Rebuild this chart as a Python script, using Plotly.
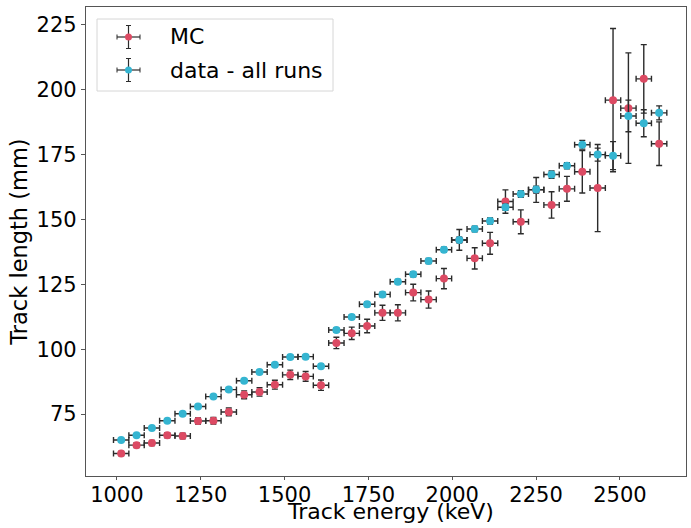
import plotly.graph_objects as go

energy = [1012.9 + 45.83 * i for i in range(36)]
energy_err = [22.9] * 36

mc_length = [59.8, 63.0, 63.8, 66.8, 66.5, 72.3, 72.4, 75.8, 82.4, 83.5,
             86.3, 90.1, 89.5, 86.1, 102.4, 106.1, 108.9, 114.0, 114.0, 121.8,
             119.1, 127.2, 142.1, 135.0, 140.8, 156.9, 149.1, 161.4, 155.6, 161.8,
             168.4, 162.1, 196.0, 192.9, 204.2, 179.2]
mc_err = [0.8, 0.9, 1.0, 1.0, 1.1, 1.2, 1.3, 1.5, 1.5, 1.6,
          1.7, 1.8, 1.9, 2.0, 2.2, 2.4, 2.6, 2.9, 3.1, 3.2,
          3.3, 3.9, 4.0, 4.1, 4.2, 4.5, 4.6, 4.8, 5.1, 4.8,
          8.2, 16.8, 27.6, 21.3, 13.2, 8.4]

data_length = [65.0, 66.8, 69.6, 72.4, 75.1, 77.9, 81.7, 84.4, 87.8, 91.2,
               94.0, 97.0, 97.1, 93.4, 107.4, 112.4, 117.3, 121.1, 126.0, 128.9,
               134.0, 138.3, 142.1, 146.3, 149.4, 154.7, 159.8, 161.5, 167.3, 170.7,
               178.8, 175.0, 174.6, 189.9, 187.1, 191.1]
data_err = [0.4, 0.4, 0.4, 0.5, 0.5, 0.5, 0.5, 0.6, 0.6, 0.6,
            0.7, 0.7, 0.7, 0.8, 0.8, 0.8, 0.9, 0.9, 0.9, 1.0,
            1.0, 1.0, 1.1, 1.1, 1.2, 1.2, 1.3, 1.3, 1.4, 1.2,
            1.7, 2.5, 5.4, 6.1, 5.2, 2.7]

series_names = ["MC", "data - all runs"]
x_title = "Track energy (keV)"
y_title = "Track length (mm)"

RED = "#dc4a63"
CYAN = "#35b5d1"
ERR = "#2b2b2b"
FONT = "DejaVu Sans"

fig = go.Figure()
for name, y, ye, col in [(series_names[0], mc_length, mc_err, RED),
                         (series_names[1], data_length, data_err, CYAN)]:
    fig.add_trace(go.Scatter(
        x=energy, y=y, name=name, mode="markers", showlegend=False,
        marker=dict(color=col, size=8, symbol="circle"),
        error_x=dict(type="data", array=energy_err, color=ERR, thickness=1.4, width=3),
        error_y=dict(type="data", array=ye, color=ERR, thickness=1.4, width=3),
    ))

axis_common = dict(
    showline=True, linecolor="#555555", linewidth=1.2, mirror=True,
    ticks="outside", tickcolor="#555555", tickwidth=1,
    showgrid=False, zeroline=False, automargin=False,
    tickfont=dict(family=FONT, size=21, color="black"),
)

# plot area in pixels: x 86..686, y 7..476
PX0, PX1, PY0, PY1 = 86, 686, 7, 476
def px(x):
    return (x - PX0) / (PX1 - PX0)
def py(y):
    return (PY1 - y) / (PY1 - PY0)

shapes = []
annotations = []
bx0, bx1, by0, by1 = px(97), px(333), py(91), py(19)
shapes.append(dict(type="rect", xref="paper", yref="paper",
                   x0=bx0, x1=bx1, y0=by0, y1=by1,
                   line=dict(color="#d6d6d6", width=1), fillcolor="rgba(255,255,255,0.8)",
                   layer="above"))
for i, (name, col) in enumerate(zip(series_names, [RED, CYAN])):
    yc = py(37 + 33 * i)
    xc = px(128.5)
    shapes.append(dict(type="line", xref="paper", yref="paper", xsizemode="pixel", ysizemode="pixel",
                       xanchor=xc, yanchor=yc, x0=-11.5, x1=11.5, y0=0, y1=0,
                       line=dict(color=ERR, width=1.2), layer="above"))
    shapes.append(dict(type="line", xref="paper", yref="paper", xsizemode="pixel", ysizemode="pixel",
                       xanchor=xc, yanchor=yc, x0=0, x1=0, y0=-11.5, y1=11.5,
                       line=dict(color=ERR, width=1.2), layer="above"))
    for dx in (-11.5, 11.5):
        shapes.append(dict(type="line", xref="paper", yref="paper", xsizemode="pixel", ysizemode="pixel",
                           xanchor=xc, yanchor=yc, x0=dx, x1=dx, y0=-2.5, y1=2.5,
                           line=dict(color=ERR, width=1), layer="above"))
    for dy in (-11.5, 11.5):
        shapes.append(dict(type="line", xref="paper", yref="paper", xsizemode="pixel", ysizemode="pixel",
                           xanchor=xc, yanchor=yc, x0=-2.5, x1=2.5, y0=dy, y1=dy,
                           line=dict(color=ERR, width=1), layer="above"))
    shapes.append(dict(type="circle", xref="paper", yref="paper", xsizemode="pixel", ysizemode="pixel",
                       xanchor=xc, yanchor=yc, x0=-3.5, x1=3.5, y0=-3.5, y1=3.5,
                       line=dict(color=col, width=0), fillcolor=col, layer="above"))
    annotations.append(dict(xref="paper", yref="paper", x=px(168), y=yc,
                            xanchor="left", yanchor="middle", showarrow=False,
                            text=name, font=dict(family=FONT, size=22, color="black")))

# x-axis title placed as annotation (matches reference spacing)
annotations.append(dict(xref="paper", yref="paper", x=px(390), y=py(512),
                        xanchor="center", yanchor="middle", showarrow=False,
                        text=x_title, font=dict(family=FONT, size=22, color="black")))

fig.update_layout(
    width=691, height=528,
    margin=dict(l=PX0, r=691 - PX1, t=PY0, b=528 - PY1),
    paper_bgcolor="white", plot_bgcolor="white",
    font=dict(family=FONT, size=21, color="black"),
    xaxis=dict(range=[908, 2697], tickvals=[1000, 1250, 1500, 1750, 2000, 2250, 2500],
               ticklen=3, ticklabelstandoff=-3, **axis_common),
    yaxis=dict(range=[51.1, 231.9], tickvals=[75, 100, 125, 150, 175, 200, 225],
               ticklen=4, ticklabelstandoff=0,
               title=dict(text=y_title, font=dict(family=FONT, size=22.5), standoff=2),
               **axis_common),
    shapes=shapes,
    annotations=annotations,
    showlegend=False,
)

fig.write_html("out.html", config={"displayModeBar": False},
               post_script="document.body.style.margin='0px';document.body.style.overflow='hidden';")
